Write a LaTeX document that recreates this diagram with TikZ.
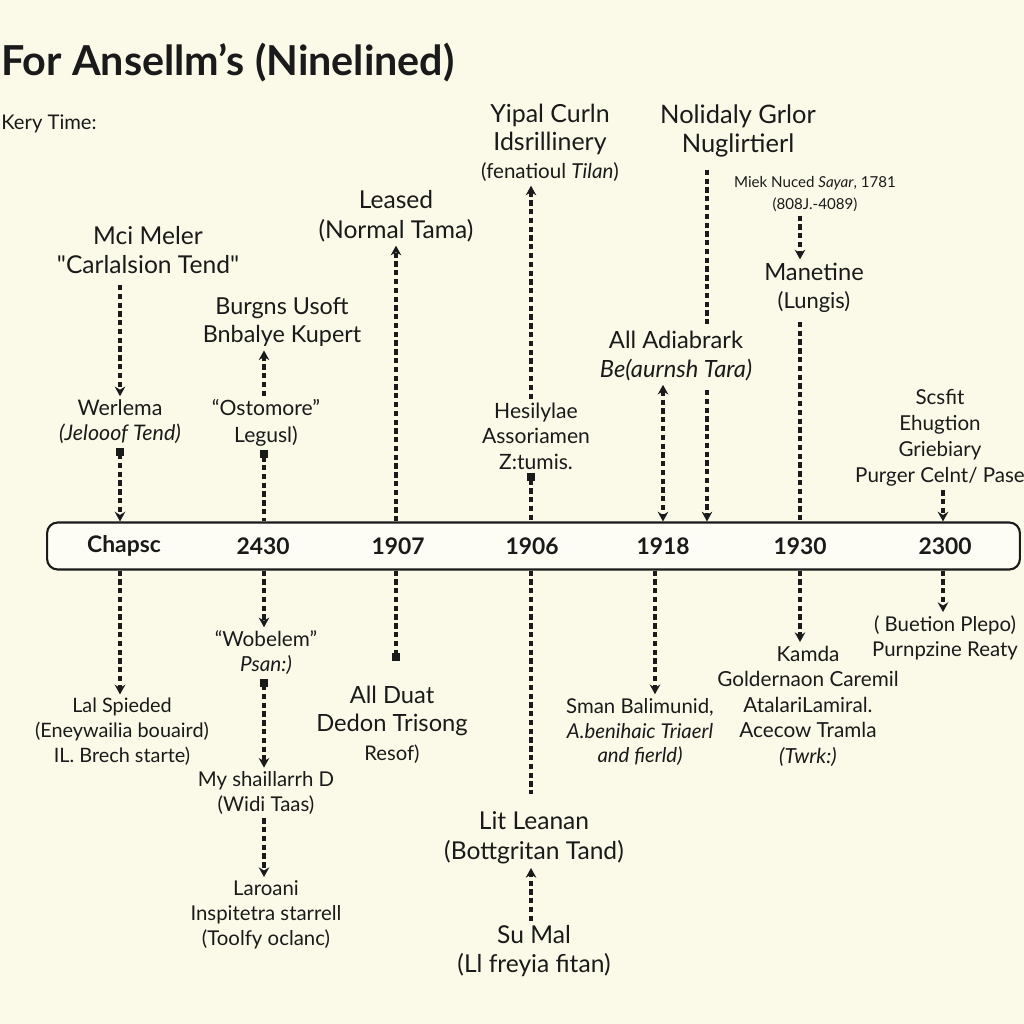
\documentclass[tikz,border=0pt]{standalone}
\usepackage{fontspec}
\setmainfont{Lato}[Ligatures=TeXOff]
\usetikzlibrary{arrows.meta}
\definecolor{paper}{RGB}{251,250,233}
\definecolor{ink}{RGB}{26,26,26}

\begin{document}
\begin{tikzpicture}[
      x=0.02cm, y=-0.02cm,
      >={Stealth[length=5.5pt,width=6pt]},
      big/.style={font=\fontsize{14}{17}\selectfont, align=center, text=ink, inner sep=2pt},
      mid/.style={font=\fontsize{11.6}{14.2}\selectfont, align=center, text=ink, inner sep=2pt},
      small/.style={font=\fontsize{8.6}{12.5}\selectfont, align=center, text=ink, inner sep=2pt},
      year/.style={font=\bfseries\fontsize{13}{15}\selectfont, text=ink},
      dl/.style={draw=ink, line width=1.8pt, dash pattern=on 3pt off 2pt},
      bar/.style={draw=ink, line width=1.2pt, rounded corners=6pt, fill=white!55!paper,
                  minimum width=19.46cm, minimum height=0.94cm}
    ]
      \fill[paper] (0,0) rectangle (1024,1024);
      \useasboundingbox (0,0) rectangle (1024,1024);

      \node[anchor=west, inner sep=0, font=\bfseries\fontsize{23.5}{27}\selectfont, text=ink] (title) at (1,63) {For Ansellm’s (Ninelined)};
      \node[anchor=west, inner sep=0, font=\fontsize{11.5}{13}\selectfont, text=ink] (key) at (1,124) {Kery Time:};

      % the time bar
      \node[bar] (bar) at (533.5,546) {};
      \foreach \yr/\xx [count=\k] in {Chapsc/124, 2430/263, 1907/398, 1906/532, 1918/663, 1930/800, 2300/945}
        \node[year] (yr\k) at (\xx,546) {\yr};

      % x of the dashed links
      \coordinate (c1) at (120,0);
      \coordinate (c2) at (264,0);
      \coordinate (c3) at (396,0);
      \coordinate (c4) at (531,0);
      \coordinate (c5) at (663,0);
      \coordinate (c5b) at (707,0);
      \coordinate (c5c) at (655,0);
      \coordinate (c6) at (800,0);
      \coordinate (c7) at (943,0);

      % above the bar
      \node[big] (mci) at (148,250) {Mci Meler\\"Carlalsion Tend"};
      \node[mid, font=\fontsize{12.2}{14.2}\selectfont] (werl) at (120,422) {Werlema\\\textit{(Jelooof Tend)}};
      \node[big, font=\fontsize{13.3}{16}\selectfont] (burg) at (282,322) {Burgns Usoft\\Bnbalye Kupert};
      \node[mid, font=\fontsize{12}{15}\selectfont] (osto) at (266,423) {“Ostomore”\\Legusl)};
      \node[big] (leased) at (396,216) {Leased\\(Normal Tama)};
      \node[big, font=\fontsize{14.2}{16}\selectfont] (yipal) at (550,143) {Yipal Curln\\Idsrillinery\\{\fontsize{11.7}{12}\selectfont(fenatioul \textit{Tilan})}};
      \node[mid, font=\fontsize{12}{14.5}\selectfont] (hesi) at (536,436) {Hesilylae\\Assoriamen\\Z:tumis.};
      \node[big, font=\fontsize{14.5}{16.5}\selectfont] (noli) at (738,131) {Nolidaly Grlor\\Nuglirtierl};
      \node[big, font=\fontsize{13.5}{16.5}\selectfont] (adia) at (676,356) {All Adiabrark\\\textit{Be(aurnsh Tara)}};
      \node[small] (miek) at (815,194) {Miek Nuced \textit{Sayar}, 1781\\(808J.-4089)};
      \node[big, font=\fontsize{13.5}{16}\selectfont] (mane) at (814,288) {Manetine\\{\fontsize{12.5}{12}\selectfont(Lungis)}};
      \node[mid, font=\fontsize{11.7}{14.8}\selectfont] (scsfit) at (940,438) {Scsfit\\Ehugtion\\Griebiary\\Purger Celnt/ Pase};

      % below the bar
      \node[mid, font=\fontsize{11.3}{14.2}\selectfont] (lal) at (122,732) {Lal Spieded\\(Eneywailia bouaird)\\IL. Brech starte)};
      \node[mid, font=\fontsize{11.8}{14.2}\selectfont] (wob) at (266,653) {“Wobelem”\\\textit{Psan:)}};
      \node[mid] (mysh) at (266,793) {My shaillarrh D\\(Widi Taas)};
      \node[mid] (laro) at (266,915) {Laroani\\Inspitetra starrell\\(Toolfy oclanc)};
      \node[big, font=\fontsize{13.5}{15.8}\selectfont] (duat) at (392,725) {All Duat\\Dedon Trisong\\[1pt]{\fontsize{11.5}{12}\selectfont Resof)}};
      \node[big] (lit) at (534,838) {Lit Leanan\\(Bottgritan Tand)};
      \node[big] (sumal) at (534,951) {Su Mal\\(Ll freyia fitan)};
      \node[mid] (sman) at (640,732) {Sman Balimunid,\\\textit{A.benihaic Triaerl}\\\textit{and fierld)}};
      \node[mid, font=\fontsize{11.8}{14.5}\selectfont] (kamda) at (808,706) {Kamda\\Goldernaon Caremil\\AtalariLamiral.\\Acecow Tramla\\\textit{(Twrk:)}};
      \node[mid] (buet) at (945,638) {( Buetion Plepo)\\Purnpzine Reaty};

      % dashed links
      \draw[dl,->,shorten <=4pt] (c1 |- mci.south) -- (c1 |- werl.north);
      \draw[dl,{Square[length=4.5pt,width=4.5pt]}->] (c1 |- werl.south) -- (c1 |- bar.north);
      \draw[dl,->] (c1 |- bar.south) -- (c1 |- lal.north);

      \draw[dl,->] (c2 |- osto.north) -- (c2 |- burg.south);
      \draw[dl,{Square[length=4.5pt,width=4.5pt]}-] (c2 |- osto.south) -- (c2 |- bar.north);
      \draw[dl,->] (c2 |- bar.south) -- (c2 |- wob.north);
      \draw[dl,{Square[length=4.5pt,width=4.5pt]}->] (c2 |- wob.south) -- (c2 |- mysh.north);
      \draw[dl,->] (c2 |- mysh.south) -- (c2 |- laro.north);

      \draw[dl,->] (c3 |- bar.north) -- (c3 |- leased.south);
      \draw[dl,-{Square[length=4.5pt,width=4.5pt]},shorten >=12pt] (c3 |- bar.south) -- (c3 |- duat.north);

      \draw[dl,->] (c4 |- hesi.north) -- (c4 |- yipal.south);
      \draw[dl,{Square[length=4.5pt,width=4.5pt]}-] (c4 |- hesi.south) -- (c4 |- bar.north);
      \draw[dl,shorten >=8pt] (c4 |- bar.south) -- (c4 |- lit.north);
      \draw[dl,->] (c4 |- sumal.north) -- (c4 |- lit.south);

      \draw[dl,shorten <=5pt] (c5b |- noli.south) -- (c5b |- adia.north);
      \draw[dl,->,shorten <=3pt] (c5b |- adia.south) -- (c5b |- bar.north);
      \draw[dl,<->] (c5 |- adia.south) -- (c5 |- bar.north);
      \draw[dl,->] (c5c |- bar.south) -- (c5c |- sman.north);

      \draw[dl,->] (c6 |- miek.south) -- (c6 |- mane.north);
      \draw[dl,shorten <=3pt] (c6 |- mane.south) -- (c6 |- bar.north);
      \draw[dl,->] (c6 |- bar.south) -- (c6 |- kamda.north);

      \draw[dl,->] (c7 |- scsfit.south) -- (c7 |- bar.north);
      \draw[dl,->] (c7 |- bar.south) -- (c7 |- buet.north);
    \end{tikzpicture}
\end{document}
